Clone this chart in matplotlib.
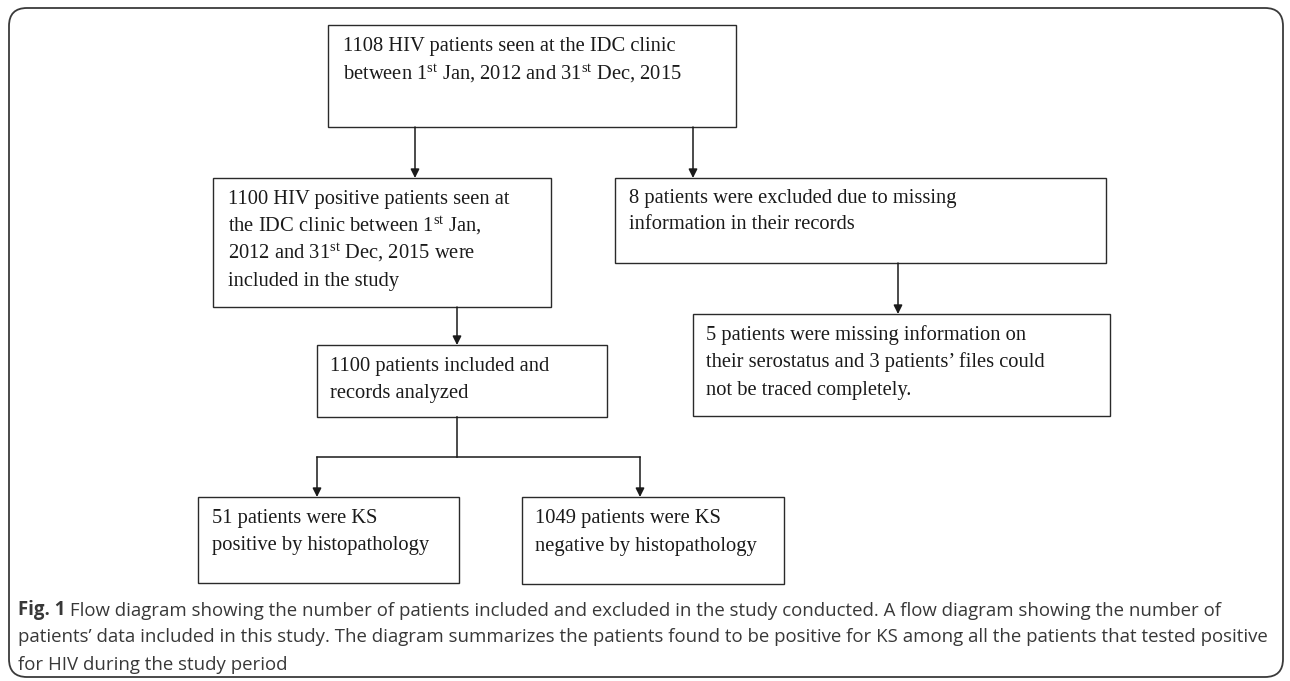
import matplotlib
matplotlib.use("Agg")
import matplotlib.pyplot as plt
from matplotlib.patches import Rectangle, FancyBboxPatch

plt.rcParams["mathtext.fontset"] = "custom"
plt.rcParams["mathtext.rm"] = "Liberation Serif"
plt.rcParams["mathtext.it"] = "Liberation Serif:italic"
plt.rcParams["mathtext.bf"] = "Liberation Serif:bold"

W, H = 1290, 681
ST = r"$^{\mathrm{st}}$"

# text of each box, line by line
all_seen = ["1108 HIV patients seen at the IDC clinic",
            "between 1" + ST + " Jan, 2012 and 31" + ST + " Dec, 2015"]
included = ["1100 HIV positive patients seen at",
            "the IDC clinic between 1" + ST + " Jan,",
            "2012 and 31" + ST + " Dec, 2015 were",
            "included in the study"]
excluded = ["8 patients were excluded due to missing",
            "information in their records"]
reasons = ["5 patients were missing information on",
           "their serostatus and 3 patients\u2019 files could",
           "not be traced completely."]
analyzed = ["1100 patients included and",
            "records analyzed"]
ks_pos = ["51 patients were KS",
          "positive by histopathology"]
ks_neg = ["1049 patients were KS",
          "negative by histopathology"]

caption_bold = "Fig. 1"
caption_lines = [" Flow diagram showing the number of patients included and excluded in the study conducted. A flow diagram showing the number of",
                 "patients\u2019 data included in this study. The diagram summarizes the patients found to be positive for KS among all the patients that tested positive",
                 "for HIV during the study period"]

# layout in pixels: box (x0, y0, x1, y1), text left, first line centre, line step
layout = [
    (all_seen, (328, 25, 736, 127), 343, 45, 28),
    (included, (213, 178, 551, 307), 228, 198, 27.3),
    (excluded, (615, 178, 1106, 263), 629, 197, 26),
    (reasons, (693, 314, 1110, 416), 706, 334, 27.5),
    (analyzed, (317, 345, 607, 417), 330, 365, 27),
    (ks_pos, (198, 497, 459, 583), 212, 517, 27),
    (ks_neg, (522, 497, 784, 584), 535, 517, 28),
]

fig = plt.figure(figsize=(W / 100, H / 100), dpi=100)
ax = fig.add_axes([0, 0, 1, 1])
ax.set_xlim(0, W)
ax.set_ylim(H, 0)
ax.axis("off")

# outer frame
frame = FancyBboxPatch((9, 8), 1274, 669, boxstyle="round,pad=0,rounding_size=18",
                       fill=False, ec="#3a3a3a", lw=1.3)
ax.add_patch(frame)

box_font = dict(family="Liberation Serif", size=14.8, color="#1a1a1a")
for lines, (x0, y0, x1, y1), tx, ty, step in layout:
    ax.add_patch(Rectangle((x0, y0), x1 - x0, y1 - y0, fill=False, ec="#2a2a2a", lw=1.0))
    for i, line in enumerate(lines):
        ax.text(tx, ty + i * step + 6, line, ha="left", va="baseline", **box_font)

arrow = dict(arrowstyle="-|>", mutation_scale=13, lw=1.1, color="#1a1a1a",
             shrinkA=0, shrinkB=0)
arrows = [((415, 127), (415, 178)), ((693, 127), (693, 178)),
          ((457, 307), (457, 345)), ((898, 263), (898, 314)),
          ((317, 457), (317, 497)), ((640, 457), (640, 497))]
for a, b in arrows:
    ax.annotate("", xy=b, xytext=a, arrowprops=arrow)
ax.plot([457, 457], [417, 457], color="#1a1a1a", lw=1.1)
ax.plot([317, 640], [457, 457], color="#1a1a1a", lw=1.1)

# caption
cap_y = [610, 637, 664]
cap_font = dict(family="Open Sans", size=13.4, color="#383838")
fig.canvas.draw()
r = fig.canvas.get_renderer()
tb = ax.text(18, cap_y[0] + 5.5, caption_bold, ha="left", va="baseline",
             fontweight="bold", **cap_font)
bb = tb.get_window_extent(renderer=r)
ax.text(bb.x1, cap_y[0] + 5.5, caption_lines[0], ha="left", va="baseline", **cap_font)
for y, line in zip(cap_y[1:], caption_lines[1:]):
    ax.text(18, y + 5.5, line, ha="left", va="baseline", **cap_font)

fig.savefig("out.png", dpi=100)
